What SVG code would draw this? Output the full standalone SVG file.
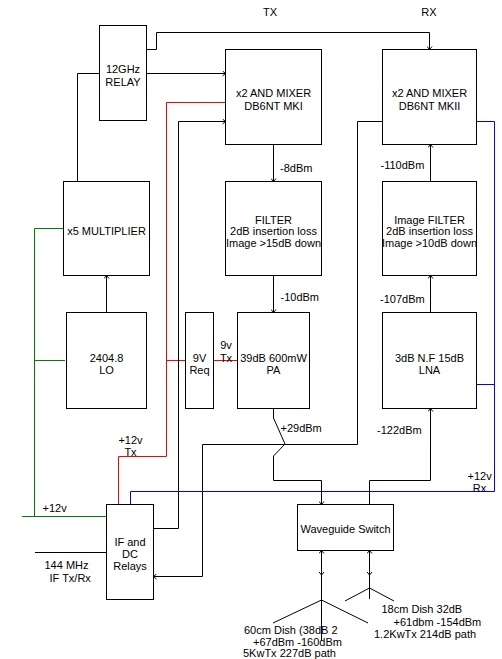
<svg xmlns="http://www.w3.org/2000/svg" width="502" height="659" viewBox="0 0 502 659">
<style>
.box{fill:#fff;stroke:#000;stroke-width:1}
.w{fill:none;stroke:#000;stroke-width:1}
.r{fill:none;stroke:#ff0000;stroke-width:1}
.b{fill:none;stroke:#0000ff;stroke-width:1}
.g{fill:none;stroke:#008000;stroke-width:1}
text{font-family:"Liberation Sans",Arial,sans-serif;font-size:11px;fill:#000}
.c{text-anchor:middle}
</style>
<defs>
<marker id="a" viewBox="-4 -3 5 6" refX="0" refY="0" markerWidth="5" markerHeight="6" orient="auto" markerUnits="userSpaceOnUse">
<path d="M-3,-2.5 L0,0 L-3,2.5" fill="none" stroke="#000" stroke-width="1"/>
</marker>
</defs>
<rect width="502" height="659" fill="#fff"/>
<g id="connectors">
<path class="w" d="M146.5,49.5 H156.5 V32.5 H429.5 V49.5" marker-end="url(#a)"/>
<path class="w" d="M146.5,73.5 H225.5" marker-end="url(#a)"/>
<path class="w" d="M99.5,73.5 H77.5 V181.5"/>
<path class="r" d="M225.5,102.5 H166.5 V456.5 H118.5 V504.5"/>
<path class="r" d="M166.5,360.5 H185.5 M213.5,360.5 H237.5"/>
<path class="w" d="M153.5,528.5 H178.5 V121.5 H225.5" marker-end="url(#a)"/>
<path class="w" d="M382.5,121.5 H357.5 V444.5 H202.5 V576.5 H153.5" marker-end="url(#a)"/>
<path class="b" d="M476.5,121.5 H494.5 V491.5 H130.5 V504.5 M476.5,384.5 H494.5"/>
<path class="g" d="M63.5,228.5 H34.5 V516.5 M22,516.5 H106.5 M34.5,360.5 H65"/>
<path class="w" d="M35,552.5 H106.5"/>
<path class="w" d="M106.5,312.5 V275.5" marker-end="url(#a)"/>
<path class="w" d="M273.5,144.5 V181.5" marker-end="url(#a)"/>
<path class="w" d="M273.5,275.5 V312.5" marker-end="url(#a)"/>
<path class="w" d="M430.5,181.5 V144.5" marker-end="url(#a)"/>
<path class="w" d="M430.5,312.5 V275.5" marker-end="url(#a)"/>
<path class="w" d="M273.5,408.5 V418 L285,444 L273.5,456 V480.5 H321.5 V504.5" marker-end="url(#a)"/>
<path class="w" d="M369.5,504.5 V480.5 H430.5 V408.5" marker-end="url(#a)"/>
<path class="w" d="M321.5,575 V550.5" marker-end="url(#a)"/>
<path class="w" d="M321.5,560 V575" marker-end="url(#a)"/>
<path class="w" d="M321.5,575 V641"/>
<path class="w" d="M369.5,575 V550.5" marker-end="url(#a)"/>
<path class="w" d="M369.5,560 V575" marker-end="url(#a)"/>
<path class="w" d="M369.5,575 V599"/>
<path class="w" d="M273,623 L321.5,600 L368,623"/>
<path class="w" d="M345,601 L369.5,588 L394,601"/>
</g>
<g id="relay"><rect class="box" x="99.5" y="25.5" width="47" height="95"/><text class="c" x="123" y="73">12GHz</text><text class="c" x="123" y="86">RELAY</text></g>
<g id="tx-mixer"><rect class="box" x="225.5" y="49.5" width="96" height="95"/><text class="c" x="273.5" y="97">x2 AND MIXER</text><text class="c" x="273.5" y="110">DB6NT MKI</text></g>
<g id="rx-mixer"><rect class="box" x="382.5" y="49.5" width="94" height="95"/><text class="c" x="429.5" y="97">x2 AND MIXER</text><text class="c" x="429.5" y="110">DB6NT MKII</text></g>
<g id="multiplier"><rect class="box" x="63.5" y="181.5" width="86" height="94"/><text class="c" x="106.5" y="235">x5 MULTIPLIER</text></g>
<g id="tx-filter"><rect class="box" x="225.5" y="181.5" width="96" height="94"/><text class="c" x="273.5" y="223.5">FILTER</text><text class="c" x="273.5" y="235">2dB insertion loss</text><text class="c" x="273.5" y="247">Image &gt;15dB down</text></g>
<g id="rx-filter"><rect class="box" x="382.5" y="181.5" width="94" height="94"/><text class="c" x="429.5" y="223.5">Image FILTER</text><text class="c" x="429.5" y="235">2dB insertion loss</text><text class="c" x="429.5" y="247">Image &gt;10dB down</text></g>
<g id="lo"><rect class="box" x="66.5" y="312.5" width="80" height="96"/><text class="c" x="106.5" y="361.5">2404.8</text><text class="c" x="106.5" y="373.5">LO</text></g>
<g id="reg"><rect class="box" x="185.5" y="312.5" width="28" height="96"/><text class="c" x="199.5" y="361.5">9V</text><text class="c" x="199.5" y="373.5">Req</text></g>
<g id="pa"><rect class="box" x="237.5" y="312.5" width="72" height="96"/><text class="c" x="273.5" y="361.5">39dB 600mW</text><text class="c" x="273.5" y="373.5">PA</text></g>
<g id="lna"><rect class="box" x="382.5" y="312.5" width="94" height="96"/><text class="c" x="429.5" y="361.5">3dB N.F 15dB</text><text class="c" x="429.5" y="373.5">LNA</text></g>
<g id="if-relays"><rect class="box" x="106.5" y="504.5" width="47" height="95"/><text class="c" x="130" y="545.5">IF and</text><text class="c" x="130" y="557.5">DC</text><text class="c" x="130" y="569.5">Relays</text></g>
<g id="waveguide"><rect class="box" x="297.5" y="504.5" width="96" height="46"/><text class="c" x="345.5" y="533">Waveguide Switch</text></g>
<g id="labels">
<text class="c" x="270" y="16">TX</text>
<text class="c" x="429" y="16">RX</text>
<text x="280" y="172">-8dBm</text>
<text x="380.5" y="168.5">-110dBm</text>
<text x="280.5" y="301">-10dBm</text>
<text x="380" y="303">-107dBm</text>
<text x="280.5" y="432">+29dBm</text>
<text x="377" y="434">-122dBm</text>
<text class="c" x="226" y="349">9v</text>
<text class="c" x="226" y="361.5">Tx</text>
<text x="467.5" y="480">+12v</text>
<text class="c" x="479.5" y="492">Rx</text>
<text class="c" x="130.5" y="444">+12v</text>
<text class="c" x="130.5" y="456">Tx</text>
<text x="42.5" y="512">+12v</text>
<text x="44.5" y="569">144 MHz</text>
<text x="49.5" y="582">IF Tx/Rx</text>
<text x="381.5" y="613">18cm Dish 32dB</text>
<text x="393.5" y="626">+61dbm -154dBm</text>
<text x="374" y="638">1.2KwTx 214dB path</text>
<text x="244" y="634">60cm Dish (38dB 2</text>
<text x="253" y="646">+67dBm -160dBm</text>
<text x="243" y="657">5KwTx 227dB path</text>
</g>
</svg>
